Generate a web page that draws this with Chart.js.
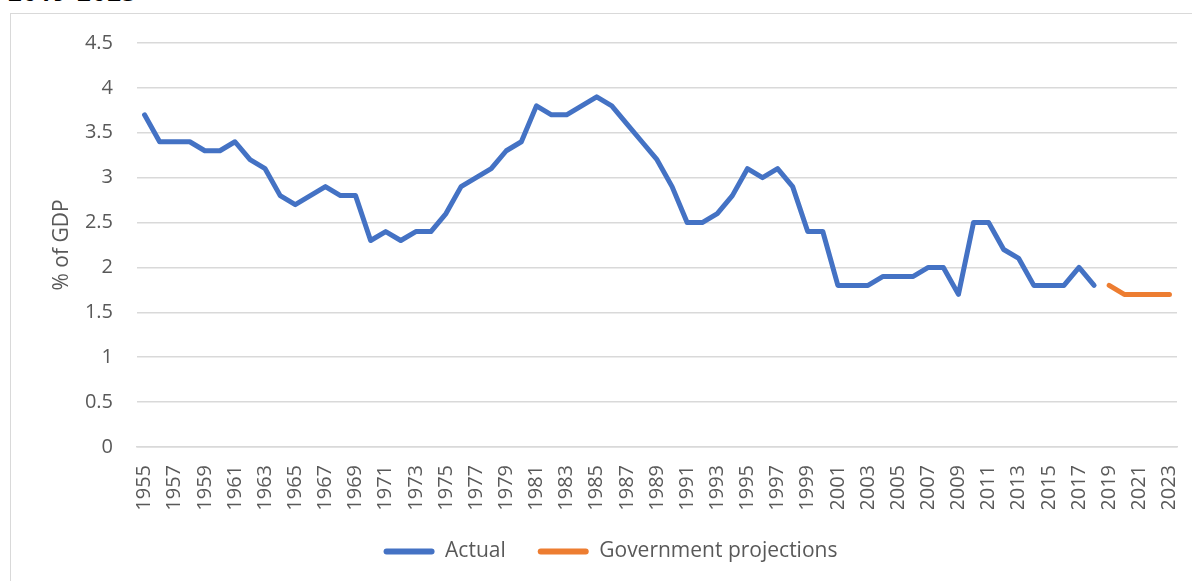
<!DOCTYPE html>
<html>
<head>
<meta charset="utf-8">
<script src="https://cdn.jsdelivr.net/npm/chart.js@4/dist/chart.umd.min.js"></script>
<style>
  html, body { margin: 0; padding: 0; background: #ffffff; overflow: hidden; }
  #page { position: relative; width: 1192px; height: 581px; overflow: hidden; background: #fff; }
  #cut { position: absolute; left: 8px; top: -25px; font: bold 24px "Open Sans", sans-serif; color: #000; white-space: nowrap; letter-spacing: 1.3px; }
  #frame { position: absolute; left: 10px; top: 13px; width: 1300px; height: 700px; border: 1px solid #D9D9D9; box-sizing: border-box; }
  #wrap { position: absolute; left: 0; top: 0; width: 1192px; height: 581px; }
</style>
</head>
<body>
<div id="page">
  <div id="cut">2019-2023</div>
  <div id="frame"></div>
  <div id="wrap"><canvas id="c" width="1192" height="581"></canvas></div>
</div>
<script>
const years = [];
for (let y = 1955; y <= 2023; y++) years.push(String(y));

const actual = [
  3.7, 3.4, 3.4, 3.4, 3.3, 3.3, 3.4, 3.2, 3.1, 2.8,
  2.7, 2.8, 2.9, 2.8, 2.8, 2.3, 2.4, 2.3, 2.4, 2.4,
  2.6, 2.9, 3.0, 3.1, 3.3, 3.4, 3.8, 3.7, 3.7, 3.8,
  3.9, 3.8, 3.6, 3.4, 3.2, 2.9, 2.5, 2.5, 2.6, 2.8,
  3.1, 3.0, 3.1, 2.9, 2.4, 2.4, 1.8, 1.8, 1.8, 1.9,
  1.9, 1.9, 2.0, 2.0, 1.7, 2.5, 2.5, 2.2, 2.1, 1.8,
  1.8, 1.8, 2.0, 1.8,
  null, null, null, null, null
];
const projections = [
  ...Array(64).fill(null),
  1.8, 1.7, 1.7, 1.7, 1.7
];
const yTicks = [0, 0.5, 1, 1.5, 2, 2.5, 3, 3.5, 4, 4.5];

const seriesNames = ['Actual', 'Government projections'];
const blue = '#4472C4', orange = '#ED7D31';

const legendShift = {
  id: 'legendShift',
  afterLayout(chart) {
    const lg = chart.legend;
    if (lg) { lg.left += 22; lg.right += 22; }
  }
};

const ctx = document.getElementById('c');
new Chart(ctx, {
  type: 'line',
  data: {
    labels: years,
    datasets: [
      { label: seriesNames[0], data: actual, borderColor: blue, backgroundColor: blue,
        borderWidth: 5, pointRadius: 0, tension: 0, spanGaps: false,
        borderCapStyle: 'round', borderJoinStyle: 'round' },
      { label: seriesNames[1], data: projections, borderColor: orange, backgroundColor: orange,
        borderWidth: 5, pointRadius: 0, tension: 0, spanGaps: false,
        borderCapStyle: 'round', borderJoinStyle: 'round' }
    ]
  },
  plugins: [legendShift],
  options: {
    responsive: false,
    animation: false,
    events: [],
    layout: { padding: { left: 0, right: 15, top: 43, bottom: 9 } },
    plugins: {
      tooltip: { enabled: false },
      legend: {
        position: 'bottom',
        labels: {
          font: { family: '"Open Sans", sans-serif', size: 21 },
          color: '#595959',
          boxWidth: 51,
          boxHeight: 6,
          padding: 32,
          useBorderRadius: true,
          borderRadius: 3,
          generateLabels: (chart) => chart.data.datasets.map((d, i) => ({
            text: d.label, fillStyle: d.borderColor, strokeStyle: d.borderColor,
            lineWidth: 0, hidden: false, datasetIndex: i, fontColor: '#595959', borderRadius: 3
          }))
        }
      }
    },
    scales: {
      x: {
        type: 'category',
        offset: true,
        afterFit: (s) => { s.height = 62; s.paddingLeft = 0; s.paddingRight = 0; },
        grid: { display: false, drawTicks: false },
        border: { display: true, color: '#D9D9D9', width: 1.5 },
        ticks: {
          autoSkip: false,
          maxRotation: 90,
          minRotation: 90,
          padding: 18,
          color: '#595959',
          font: { family: '"Open Sans", sans-serif', size: 20 },
          callback: function (val, i) { return i % 2 === 0 ? years[i] : ''; }
        }
      },
      y: {
        min: 0,
        max: 4.5,
        afterFit: (s) => { s.width = 137; },
        afterBuildTicks: (s) => { s.ticks = yTicks.map(v => ({ value: v })); },
        grid: { color: '#D9D9D9', lineWidth: 1.5, drawTicks: false },
        border: { display: false },
        ticks: {
          padding: 24,
          color: '#595959',
          font: { family: '"Open Sans", sans-serif', size: 20 },
          callback: (v) => String(v)
        },
        title: {
          display: true,
          text: '% of GDP',
          color: '#595959',
          font: { family: '"Open Sans", sans-serif', size: 21 },
          padding: { top: 49, bottom: 0 }
        }
      }
    }
  }
});
</script>
</body>
</html>
